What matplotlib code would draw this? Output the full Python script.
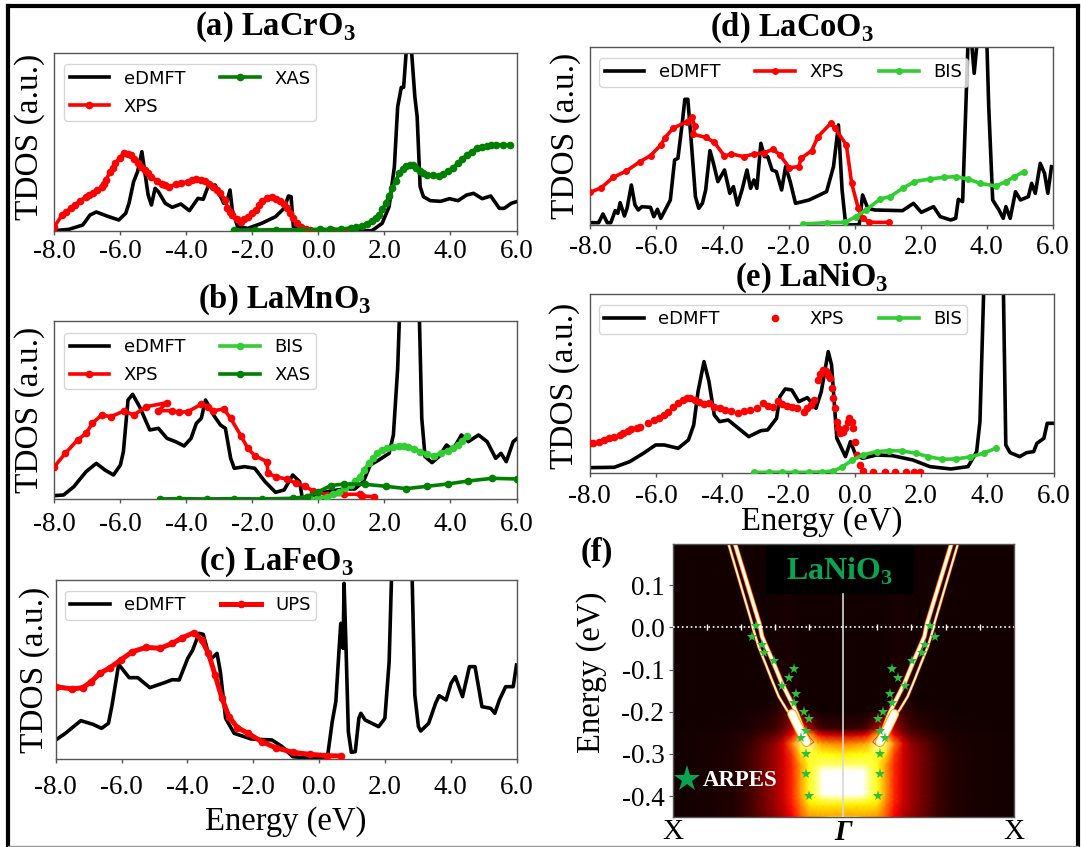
import numpy as np
import matplotlib
matplotlib.use('Agg')
import matplotlib.pyplot as plt
from matplotlib.patches import Rectangle
from matplotlib.lines import Line2D

# ---- TDOS panels, energy in eV and TDOS in arbitrary units
a_edmft_E = [-8.0,-7.56,-7.14,-6.92,-6.73,-6.41,-6.05,-5.84,-5.74,-5.60,-5.48,-5.35,-5.27,-5.16,-5.06,-4.95,-4.85,-4.64,-4.43,-4.17,-3.91,-3.65,-3.49,-3.34,-3.13,-2.87,-2.76,-2.68,-2.61,-2.45,-2.14,-1.72,-1.30,-1.04,-0.91,-0.83,-0.76,-0.57,1.62,1.93,2.14,2.30,2.40,2.51,2.58,2.66,2.74,2.82,2.92,2.99,3.08,3.18,3.39,3.70,3.97,4.23,4.49,4.70,4.96,5.22,5.48,5.63,5.84,6.0]
a_edmft_y = [1,5,18,48,57,45,33,53,83,148,178,238,183,108,78,128,118,83,71,81,61,98,95,135,138,83,93,123,63,13,8,23,43,68,105,103,13,1,1,23,73,193,373,431,431,540,570,540,403,343,133,103,91,89,97,91,108,113,97,105,68,68,83,88]
a_xps_E = [-8.0,-7.77,-7.64,-7.51,-7.37,-7.23,-7.04,-6.94,-6.83,-6.70,-6.57,-6.50,-6.44,-6.31,-6.23,-6.15,-6.02,-5.89,-5.78,-5.68,-5.58,-5.48,-5.38,-5.27,-5.16,-5.06,-4.90,-4.75,-4.64,-4.54,-4.33,-4.15,-3.96,-3.83,-3.70,-3.57,-3.44,-3.31,-3.18,-3.07,-2.97,-2.82,-2.76,-2.69,-2.61,-2.48,-2.35,-2.25,-2.14,-2.0,-1.88,-1.80,-1.72,-1.56,-1.41,-1.28,-1.15,-1.05,-0.94,-0.86,-0.78,-0.65,-0.52,-0.39,-0.26,0.05,0.4,0.78]
a_xps_y = [13,48,58,68,79,90,103,108,113,122,131,142,153,178,190,203,220,235,232,228,215,203,193,183,173,163,150,141,137,133,140,144,148,152,155,153,151,141,131,122,113,93,68,58,48,37,28,35,43,53,63,78,91,98,103,97,90,80,68,53,38,24,11,6,3,2,2,1]
a_xas_E = [-2.55,-1.93,-1.30,-0.57,0.05,0.36,0.68,0.99,1.15,1.31,1.47,1.62,1.73,1.83,1.93,2.04,2.14,2.24,2.34,2.45,2.55,2.66,2.76,2.87,2.97,3.08,3.18,3.29,3.47,3.65,3.78,3.91,4.07,4.23,4.36,4.49,4.64,4.80,4.95,5.11,5.24,5.37,5.58,5.79]
a_xas_y = [3,3,4,4,5,5,6,9,12,15,22,31,40,48,65,83,105,128,150,173,186,196,198,198,190,180,174,169,167,166,172,179,190,203,216,228,238,248,252,256,258,259,258,258]

b_edmft_E = [-8.0,-7.72,-7.41,-7.04,-6.73,-6.47,-6.21,-6.0,-5.91,-5.77,-5.63,-5.42,-5.11,-4.85,-4.59,-4.33,-4.07,-3.86,-3.70,-3.55,-3.42,-3.18,-2.97,-2.82,-2.66,-2.55,-2.24,-1.93,-1.62,-1.30,-1.04,-0.78,-0.57,-0.49,-0.42,0.0,0.37,0.78,1.10,1.36,1.57,1.83,2.14,2.27,2.40,2.45,2.77,3.06,3.13,3.23,3.44,3.65,3.88,4.07,4.33,4.54,4.85,5.11,5.37,5.53,5.69,5.90,6.0]
b_edmft_y = [11,13,38,83,108,88,73,103,143,298,315,278,208,213,183,173,160,183,228,243,298,253,223,213,123,93,98,93,53,21,28,73,53,3,1,18,25,31,31,53,103,118,138,193,393,536,800,536,243,128,110,128,163,148,193,173,193,173,123,138,113,173,181]
b_xps_E = [-8.0,-7.67,-7.30,-7.04,-6.85,-6.57,-6.29,-5.89,-5.60,-5.21,-4.59,-4.85,-4.43,-4.22,-3.96,-3.55,-3.34,-3.18,-2.87,-2.66,-2.35,-2.14,-1.93,-1.56,-1.53,-1.30,-0.94,-0.68,-0.42,-0.16,0.26,0.78,1.25,1.31,1.67]
b_xps_y = [98,138,178,198,228,253,248,265,253,278,290,266,266,261,263,285,278,266,271,243,191,153,131,113,78,68,60,48,40,25,13,15,15,10,8]
b_bis_E = [-0.26,0.0,0.26,0.45,0.63,0.8,0.99,1.12,1.25,1.38,1.52,1.65,1.78,1.93,2.09,2.27,2.45,2.58,2.71,2.9,3.08,3.28,3.49,3.7,3.91,4.07,4.23,4.36,4.49]
b_bis_y = [1,3,8,15,23,33,43,55,68,88,108,123,138,147,153,158,161,160,158,150,143,136,130,138,146,155,163,176,190]
b_xas_E = [-4.80,-4.22,-3.39,-2.55,-1.72,-0.78,-0.36,0.0,0.37,0.78,1.41,2.04,2.66,3.29,3.91,4.54,5.27,6.0]
b_xas_y = [1,2,1,2,1,3,8,23,41,46,45,39,32,39,46,55,63,61]

c_edmft_E = [-8.0,-7.71,-7.24,-6.87,-6.61,-6.40,-6.29,-6.09,-5.77,-5.51,-5.14,-4.67,-4.46,-4.25,-3.99,-3.84,-3.65,-3.52,-3.31,-3.10,-3.0,-2.84,-2.58,-2.06,-1.43,-1.12,-0.80,-0.28,0.25,0.40,0.51,0.61,0.66,0.73,0.76,0.82,0.89,0.98,1.10,1.21,1.27,1.40,1.81,2.0,2.13,2.20,2.49,2.83,2.91,3.02,3.09,3.33,3.54,3.65,3.86,4.01,4.14,4.36,4.57,4.74,4.95,5.22,5.34,5.48,5.67,5.90,6.0]
c_edmft_y = [57,77,115,104,92,107,162,284,244,244,214,230,238,237,302,327,377,374,297,317,262,122,77,60,57,37,7,2,2,112,172,332,407,332,527,332,82,20,22,122,137,117,97,122,292,537,800,537,192,97,84,107,167,190,177,227,247,187,277,277,157,152,137,177,217,217,282]
c_ups_E = [-8.0,-7.50,-7.18,-6.92,-6.66,-6.35,-6.03,-5.67,-5.25,-4.83,-4.46,-4.15,-3.80,-3.57,-3.36,-3.16,-2.95,-2.74,-2.48,-2.16,-1.74,-1.32,-0.80,-0.28,0.25,0.66]
c_ups_y = [217,210,214,232,257,274,297,322,335,332,347,364,379,357,317,252,182,127,94,77,52,34,20,14,10,9]

d_edmft_E = [-8.0,-7.75,-7.62,-7.49,-7.38,-7.25,-7.17,-7.10,-6.97,-6.89,-6.76,-6.65,-6.55,-6.44,-6.18,-6.08,-5.97,-5.87,-5.71,-5.58,-5.45,-5.35,-5.22,-5.14,-5.05,-4.95,-4.82,-4.72,-4.61,-4.51,-4.38,-4.30,-4.14,-3.94,-3.78,-3.67,-3.55,-3.41,-3.26,-3.15,-3.05,-2.96,-2.84,-2.73,-2.63,-2.50,-2.37,-2.21,-2.09,-1.95,-1.79,-1.38,-0.85,-0.64,-0.49,-0.38,-0.28,-0.23,0.14,0.24,0.40,0.61,1.45,1.78,2.02,2.39,2.59,2.91,3.06,3.14,3.27,3.43,3.53,3.62,3.72,4.0,4.06,4.18,4.37,4.50,4.58,4.71,4.87,5.02,5.26,5.36,5.47,5.62,5.75,5.85,5.96]
d_edmft_y = [7,7,33,7,7,43,35,67,27,50,120,60,45,55,53,25,47,20,50,75,195,200,305,377,377,255,85,50,65,105,223,195,130,165,95,115,60,105,165,110,135,110,245,205,205,165,160,105,175,130,65,75,100,175,300,105,10,0,1,90,50,45,43,65,38,55,25,15,20,77,70,540,560,455,560,560,355,75,45,20,55,20,100,75,85,125,95,185,155,95,175]
d_xps_E = [-8.0,-7.67,-7.31,-6.91,-6.50,-6.18,-5.87,-5.74,-5.50,-5.08,-4.93,-4.84,-4.88,-4.51,-4.25,-3.94,-3.73,-3.36,-3.05,-2.73,-2.47,-2.26,-1.98,-1.69,-1.62,-1.30,-1.11,-0.72,-0.59,-0.25,-0.09,0.11,0.24,0.45,1.03]
d_xps_y = [98,112,143,162,190,208,240,262,290,310,323,297,272,263,248,207,213,205,213,217,227,210,172,175,200,223,265,305,290,240,125,50,20,8,8]
d_bis_E = [-1.56,-0.85,-0.28,0.03,0.35,0.77,1.08,1.45,1.81,2.28,2.70,3.06,3.43,3.80,4.27,4.58,4.84,5.12]
d_bis_y = [3,7,8,25,45,78,85,110,130,138,143,145,138,125,117,130,145,160]

e_edmft_E = [-8.0,-7.26,-6.79,-6.38,-6.01,-5.75,-5.33,-5.02,-4.86,-4.73,-4.55,-4.40,-4.24,-4.08,-3.82,-3.51,-3.20,-2.83,-2.63,-2.36,-2.26,-2.10,-1.90,-1.69,-1.43,-1.17,-1.01,-0.80,-0.70,-0.54,-0.28,-0.13,0.03,0.24,0.66,1.13,1.75,2.27,2.90,3.42,3.68,3.78,3.89,4.20,4.49,4.56,4.69,4.98,5.19,5.40,5.50,5.71,5.81,6.0]
e_edmft_y = [17,18,35,60,85,85,75,100,145,245,335,275,175,155,160,135,110,128,130,165,230,253,250,215,227,195,245,365,325,105,50,95,55,45,55,53,40,20,13,20,65,155,537,800,537,85,62,50,62,65,90,105,150,150]
e_xps_E = [-8.00,-7.89,-7.73,-7.57,-7.42,-7.26,-7.10,-7.00,-6.84,-6.74,-6.58,-6.48,-6.25,-6.06,-5.91,-5.75,-5.63,-5.49,-5.33,-5.18,-5.07,-4.97,-4.81,-4.71,-4.55,-4.40,-4.24,-4.08,-3.93,-3.72,-3.51,-3.35,-3.15,-2.94,-2.78,-2.63,-2.47,-2.31,-2.21,-2.05,-1.90,-1.74,-1.53,-1.43,-1.32,-1.22,-1.11,-1.04,-0.96,-0.88,-0.80,-0.75,-0.70,-0.65,-0.59,-0.54,-0.49,-0.44,-0.35,-0.28,-0.21,-0.16,-0.09,-0.04,0.02,0.08,0.16,0.24,0.55,0.92,1.23,1.54,1.80,1.96]
e_xps_y = [92,92,93,99,105,108,115,120,128,133,135,140,152,160,167,175,185,200,212,220,225,227,220,213,207,210,200,195,191,187,181,188,190,195,210,202,200,217,207,202,200,195,185,195,205,220,280,297,310,307,295,285,255,225,195,155,135,120,125,135,155,165,155,135,95,55,25,7,3,3,3,3,3,3]
e_bis_E = [-3.04,-2.60,-2.21,-1.80,-1.38,-1.00,-0.65,-0.39,-0.07,0.24,0.66,1.02,1.44,1.85,2.22,2.64,3.05,3.47,3.89,4.25]
e_bis_y = [3,3,3,3,3,4,7,18,40,55,65,68,67,60,50,42,43,49,60,75]

energy_ticks = [-8, -6, -4, -2, 0, 2, 4, 6]
energy_labels = ['-8.0', '-6.0', '-4.0', '-2.0', '0.0', '2.0', '4.0', '6.0']

# ---- panel (f): spectral map on the left half, k=0 at X and k=1 at Gamma
map_k = [0, .2, .35, .45, .55, .6, .65, .7, .75, .8, .85, .88, .92, 1.0]
map_E = [-0.45, -0.445, -0.42, -0.405, -0.395, -0.34, -0.325, -0.30, -0.275, -0.255, -0.24, -0.20, -0.17, 0.20]
map_I = [
    [.015,.02,.035,.08,.16,.20,.26,.36,.50,.60,.62,.65,.80,.85],
    [.015,.02,.035,.08,.16,.20,.26,.36,.50,.60,.62,.62,.62,.62],
    [.015,.02,.035,.08,.17,.22,.28,.40,.55,.70,.72,.72,.72,.72],
    [.015,.02,.035,.08,.17,.22,.30,.42,.58,.75,.80,.85,.88,.88],
    [.015,.02,.035,.08,.17,.22,.30,.42,.60,.77,.88,1.0,1.0,1.0],
    [.015,.02,.035,.08,.17,.22,.30,.42,.60,.77,.88,1.0,1.0,1.0],
    [.015,.02,.035,.08,.17,.22,.30,.42,.60,.77,.82,.85,.85,.85],
    [.015,.02,.035,.08,.17,.22,.30,.45,.70,.80,.78,.76,.75,.72],
    [.015,.02,.03,.07,.15,.20,.32,.55,.85,.95,.65,.60,.58,.55],
    [.015,.02,.03,.05,.10,.13,.20,.35,.60,.65,.40,.33,.30,.28],
    [.015,.015,.02,.03,.06,.08,.14,.25,.40,.25,.12,.08,.07,.06],
    [.015,.015,.015,.02,.03,.05,.08,.12,.06,.03,.015,.015,.015,.015],
    [.015,.015,.015,.015,.015,.02,.03,.03,.015,.015,.015,.015,.015,.015],
    [.015,.015,.015,.015,.015,.015,.015,.015,.015,.015,.015,.015,.015,.015],
]
outer_k = [.327, .465, .469, .504, .543, .582, .622, .67, .70, .749, .788]
outer_E = [.198, .0095, 0, -.046, -.085, -.125, -.164, -.196, -.212, -.244, -.267]
inner_k = [.365, .508, .524, .592, .641, .69, .729, .778, .808]
inner_E = [.198, .0095, -.022, -.085, -.133, -.172, -.204, -.256, -.271]
merge_k = [.70, .72, .749, .785]
merge_E = [-.205, -.222, -.246, -.272]
star_k = [.489,.463,.522,.536,.595,.712,.680,.639,.725,.712,.768,.798,.782,.753,.782,.782,.798]
star_E = [.002,-.022,-.042,-.062,-.079,-.099,-.119,-.139,-.159,-.180,-.201,-.218,-.245,-.263,-.299,-.347,-.400]
tick_k = [.2, .4, .6, .8]

plt.rcParams['font.family'] = 'Liberation Serif'
plt.rcParams['mathtext.fontset'] = 'custom'
plt.rcParams['mathtext.rm'] = 'Liberation Serif'
plt.rcParams['mathtext.bf'] = 'Liberation Serif:bold'
plt.rcParams['axes.unicode_minus'] = False

W, H = 1081, 847
fig = plt.figure(figsize=(W / 100, H / 100), dpi=100)

LINE = 2.6
DARK = '#555555'


def make_axes(left, top, right, bottom):
    ax = fig.add_axes([left / W, 1 - bottom / H, (right - left) / W, (bottom - top) / H])
    for s in ax.spines.values():
        s.set_color(DARK)
        s.set_linewidth(1.0)
    return ax


def tdos_axes(left, top, right, bottom, ymax, pad=3, label_x=-0.02, label_y=0.5):
    ax = make_axes(left, top, right, bottom)
    ax.set_xlim(-8, 6)
    ax.set_ylim(0, ymax)
    ax.set_xticks(energy_ticks)
    ax.set_xticklabels(energy_labels)
    ax.set_yticks([])
    ax.tick_params(axis='x', labelsize=19.5, length=3, width=1, color=DARK, pad=pad)
    ax.set_ylabel('TDOS (a.u.)', fontsize=24)
    ax.yaxis.set_label_coords(label_x, label_y)
    return ax


def curve(ax, E, y, color, label, ms=4.5, z=3):
    ax.plot(E, y, '-o', color=color, lw=LINE, ms=ms, label=label, zorder=z)


def add_legend(ax, x, y, ncol):
    ax.legend(loc='upper left', bbox_to_anchor=(x, y), borderaxespad=0, ncol=ncol,
              prop={'family': 'DejaVu Sans', 'size': 13}, handlelength=2.2,
              columnspacing=1.95, handletextpad=0.8, labelspacing=0.55, borderpad=0.3)


def px_text(x, y, s, **kw):
    fig.text(x / W, 1 - y / H, s, ha='center', va='center', **kw)


# (a)
ax = tdos_axes(54.4, 52.7, 516.5, 231, 535, pad=3, label_y=0.53)
ax.plot(a_edmft_E, a_edmft_y, color='k', lw=LINE, label='eDMFT', zorder=2)
curve(ax, a_xps_E, a_xps_y, 'red', 'XPS')
curve(ax, a_xas_E, a_xas_y, 'green', 'XAS')
add_legend(ax, 0.021, 0.935, 2)

# (b)
ax = tdos_axes(54.4, 320.7, 516.5, 499.3, 536, pad=6.5)
ax.plot(b_edmft_E, b_edmft_y, color='k', lw=LINE, label='eDMFT', zorder=2)
curve(ax, b_xps_E, b_xps_y, 'red', 'XPS')
curve(ax, b_bis_E, b_bis_y, 'limegreen', 'BIS', z=4)
curve(ax, b_xas_E, b_xas_y, 'green', 'XAS', z=5)
add_legend(ax, 0.021, 0.933, 2)

# (c)
ax = tdos_axes(55.8, 580, 516.5, 759, 537, pad=8.5, label_x=-0.013)
ax.plot(c_edmft_E, c_edmft_y, color='k', lw=LINE, label='eDMFT', zorder=2)
ax.plot(c_ups_E, c_ups_y, '-o', color='red', lw=3.6, ms=4.5, label='UPS', zorder=3)
add_legend(ax, 0.019, 0.94, 2)
ax.set_xlabel('Energy (eV)', fontsize=23.5, labelpad=4.5)

# (d)
ax = tdos_axes(590.4, 47.3, 1052.8, 225, 533, pad=4)
ax.plot(d_edmft_E, d_edmft_y, color='k', lw=LINE, label='eDMFT', zorder=2)
curve(ax, d_xps_E, d_xps_y, 'red', 'XPS', ms=4)
curve(ax, d_bis_E, d_bis_y, 'limegreen', 'BIS', ms=4)
add_legend(ax, 0.019, 0.94, 3)

# (e)
ax = tdos_axes(589.7, 294.3, 1053.5, 473.3, 537, pad=5, label_y=0.49)
ax.plot(e_edmft_E, e_edmft_y, color='k', lw=LINE, label='eDMFT', zorder=2)
ax.plot(e_xps_E, e_xps_y, 'o', color='red', ms=4.5, label='XPS', zorder=3)
curve(ax, e_bis_E, e_bis_y, 'limegreen', 'BIS', ms=4)
add_legend(ax, 0.019, 0.94, 3)
ax.set_xlabel('Energy (eV)', fontsize=23.5, labelpad=-2)

# (f)
ax = make_axes(672.7, 543.7, 1013.7, 817.3)
half = np.array(map_I)
full = np.hstack([half, half[:, -2::-1]])
k_full = np.concatenate([map_k, 2 - np.array(map_k[-2::-1])])
ax.pcolormesh(k_full, map_E, full, cmap='hot', vmin=0, vmax=1, shading='gouraud', zorder=1)
for k_vals, E_vals, widths in [(outer_k, outer_E, (2.4, 1.6, 0.8)), (inner_k, inner_E, (3.8, 2.8, 1.6))]:
    for side in (np.array(k_vals), 2 - np.array(k_vals)):
        ax.plot(side, E_vals, color='#cc1100', lw=widths[0], zorder=2)
        ax.plot(side, E_vals, color='#ffdd55', lw=widths[1], zorder=2.1)
        ax.plot(side, E_vals, color='white', lw=widths[2], zorder=2.2)
for side in (np.array(merge_k), 2 - np.array(merge_k)):
    ax.plot(side, merge_E, color='#ff8800', lw=7, zorder=2.3, solid_capstyle='round')
    ax.plot(side, merge_E, color='#ffee66', lw=6, zorder=2.35, solid_capstyle='round')
    ax.plot(side, merge_E, color='white', lw=4.8, zorder=2.4, solid_capstyle='round')
ax.set_xlim(0, 2)
ax.set_ylim(-0.45, 0.198)
ax.add_patch(Rectangle((0.547, 0.079), 0.868, 0.119, facecolor='black', edgecolor='none', zorder=2.5))
ax.plot([1, 1], [-0.45, 0.079], color='#d8d8d8', lw=1.2, zorder=3)
ax.axhline(0, color='white', ls=':', lw=1.2, zorder=3)
ticks = list(tick_k) + [2 - t for t in tick_k]
ax.plot(ticks, [0] * len(ticks), '|', color='white', ms=5, mew=1, zorder=3)
for side in (np.array(star_k), 2 - np.array(star_k)):
    ax.plot(side, star_E, '*', color='#2dbf3c', ms=8, mew=0, zorder=4)
ax.plot([0.082], [-0.359], '*', color='#0aa350', ms=20, mew=0, zorder=4)
ax.text(0.176, -0.363, 'ARPES', color='white', fontsize=16.5, fontweight='bold', va='center', zorder=4)
ax.text(0.981, 0.132, r'LaNiO$_{\mathbf{3}}$', color='#0aa350', fontsize=23, fontweight='bold',
        ha='center', va='center', zorder=4)
ax.set_xticks([0, 1, 2])
ax.set_xticklabels(['X', 'Γ', 'X'], fontsize=21)
gamma = ax.get_xticklabels()[1]
gamma.set_fontweight('bold')
gamma.set_fontstyle('italic')
ax.set_yticks([0.1, 0.0, -0.1, -0.2, -0.3, -0.4])
ax.set_yticklabels(['0.1', '0.0', '-0.1', '-0.2', '-0.3', '-0.4'])
ax.tick_params(axis='y', labelsize=19.5, length=3, color=DARK, pad=3)
ax.tick_params(axis='x', length=0, pad=1)
ax.set_ylabel('Energy (eV)', fontsize=23.5)
ax.yaxis.set_label_coords(-0.193, 0.531)

# panel titles
title_kw = dict(fontsize=23.5, fontweight='bold')
px_text(275, 27, r'(a) LaCrO$_{\mathbf{3}}$', **title_kw)
px_text(285, 300, r'(b) LaMnO$_{\mathbf{3}}$', **title_kw)
px_text(277, 562, r'(c) LaFeO$_{\mathbf{3}}$', **title_kw)
px_text(792, 28, r'(d) LaCoO$_{\mathbf{3}}$', **title_kw)
px_text(812, 278, r'(e) LaNiO$_{\mathbf{3}}$', **title_kw)
px_text(597, 552, '(f)', **title_kw)

# outer frame
fig.add_artist(Line2D([8 / W, 8 / W], [1 - 6 / H, 0], color='k', lw=3))
fig.add_artist(Line2D([1078 / W, 1078 / W], [1 - 6 / H, 0], color='k', lw=3))
fig.add_artist(Line2D([8 / W, 1078 / W], [1 - 6 / H, 1 - 6 / H], color='k', lw=3))
fig.add_artist(Line2D([8 / W, 1078 / W], [1 - 845.5 / H, 1 - 845.5 / H], color='#999999', lw=1))

plt.savefig('out.png', dpi=100)
